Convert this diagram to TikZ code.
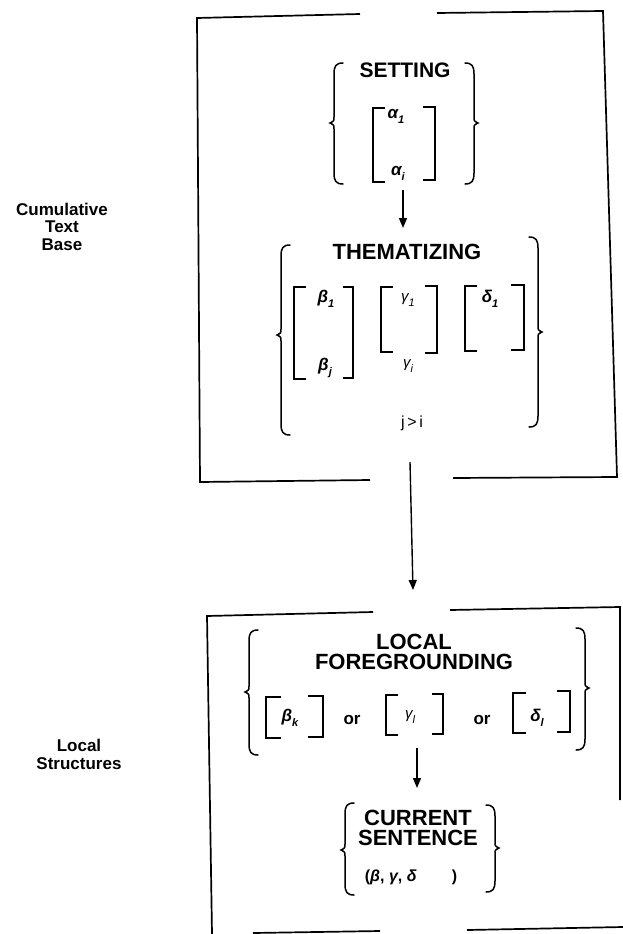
\documentclass[tikz,border=0pt]{standalone}
\usepackage{fontspec}
\setmainfont{Liberation Sans}
\usetikzlibrary{arrows.meta}
\newcommand\sbs[1]{\raisebox{-0.3em}{\fontsize{11}{11}\selectfont #1}}
\newcommand\BrL[4]{\draw[brc] ({#1+9},#2) .. controls ({#1+2},#2) and (#1,{#2+3}) .. (#1,{#2+11}) -- (#1,{#4-6}) .. controls (#1,{#4-2}) .. ({#1-4},#4) .. controls (#1,{#4+2}) .. (#1,{#4+6}) -- (#1,{#3-11}) .. controls (#1,{#3-3}) and ({#1+2},#3) .. ({#1+9},#3);}
\newcommand\BrR[4]{\draw[brc] ({#1-9},#2) .. controls ({#1-2},#2) and (#1,{#2+3}) .. (#1,{#2+11}) -- (#1,{#4-6}) .. controls (#1,{#4-2}) .. ({#1+4},#4) .. controls (#1,{#4+2}) .. (#1,{#4+6}) -- (#1,{#3-11}) .. controls (#1,{#3-3}) and ({#1-2},#3) .. ({#1-9},#3);}
\newcommand\BkL[4]{\draw[brk] (#2,#3) -- (#1,#3) -- (#1,#4) -- (#2,#4);}
\newcommand\BkR[4]{\draw[brk] (#2,#3) -- (#1,#3) -- (#1,#4) -- (#2,#4);}
\tikzset{
  boxline/.style={line width=1.7pt, line join=miter},
  brc/.style={line width=1.5pt, line cap=round},
  brk/.style={line width=1.5pt},
  head/.style={font=\fontsize{22}{20}\selectfont\bfseries, inner sep=0pt, align=center},
  side/.style={font=\fontsize{17}{15}\selectfont\bfseries, inner sep=0pt, text height=12pt, text depth=0pt},
  gk/.style={font=\fontsize{17}{17}\selectfont\bfseries\itshape, inner sep=0pt},
  small/.style={font=\fontsize{16}{16}\selectfont, inner sep=0pt},
  orw/.style={font=\fontsize{17}{17}\selectfont\bfseries, inner sep=0pt},
  arr/.style={line width=1.4pt, -{Triangle[length=10pt,width=8pt]}}
}
\begin{document}
\begin{tikzpicture}[x=1pt,y=-1pt]
\useasboundingbox (0,0) rectangle (623,934);
% side labels
\node[side] (cum1) at (62,209) {Cumulative};
\node[side] (cum2) at (62,226.5) {Text};
\node[side] (cum3) at (62,244) {Base};
\node[side] (loc1) at (79,745) {Local};
\node[side] (loc2) at (79,763) {Structures};
% top box
\draw[boxline] (360,14) -- (197,18) -- (200,482) -- (370,480);
\draw[boxline] (437,13) -- (603,11) -- (617,477) -- (453,478);
% SETTING group
\node[head, font=\fontsize{21}{20}\selectfont\bfseries] (set) at (405,70) {SETTING};
\BrL{334}{63}{184}{123}
\BrR{474}{63}{184}{123}
\BkL{373}{385}{108}{182}
\BkR{435}{423}{107}{180}
\node[gk] (a1) at (396,116) {α\sbs{1}};
\node[gk] (ai) at (398,173) {α\sbs{i}};
\coordinate (s1) at (403,190);
\coordinate (s2) at (403,228);
\draw[arr] (s1) -- (s2);
\node[head] (them) at (407,252) {THEMATIZING};
% THEMATIZING group
\BrL{281}{245}{435}{335}
\BrR{538}{237}{427}{332}
\BkL{294}{306}{287}{379}
\BkR{353}{343}{287}{378}
\node[gk] (b1) at (326,299) {β\sbs{1}};
\node[gk] (bj) at (325,368) {β\sbs{j}};
\BkL{381}{393}{287}{352}
\BkR{437}{425}{286}{353}
\node[gk, font=\fontsize{15}{15}\selectfont\itshape] (g1) at (408,300) {γ\sbs{1}};
\node[gk, font=\fontsize{15}{15}\selectfont\itshape] (gi) at (408,366) {γ\sbs{i}};
\BkL{465}{477}{286}{351}
\BkR{524}{511}{285}{350}
\node[gk] (d1) at (490,299) {δ\sbs{1}};
\node[small] (ji) at (412,423) {j\,>\,i};
% arrow between boxes
\coordinate (c1) at (410,462);
\coordinate (c2) at (413,590);
\draw[arr] (c1) -- (c2);
% bottom box
\draw[boxline] (373,612) -- (207,616) -- (212,934);
\draw[boxline] (450,610) -- (620,607) -- (620,800);
\draw[boxline] (253,933) -- (380,931);
\draw[boxline] (467,930) -- (623,927);
\node[head] (lf) at (414,652) {LOCAL\\FOREGROUNDING};
\BrL{249}{630}{755}{692}
\BrR{585}{628}{750}{688}
\BkL{266}{281}{697}{738}
\BkR{323}{308}{696}{737}
\node[gk] (bk) at (290,718) {β\sbs{k}};
\node[orw] (or1) at (352,720) {or};
\BkL{386}{398}{695}{735}
\BkR{443}{432}{694}{734}
\node[gk, font=\fontsize{15}{15}\selectfont\itshape] (gl) at (410,717) {γ\sbs{l}};
\node[orw] (or2) at (482,720) {or};
\BkL{513}{526}{693}{733}
\BkR{570}{557}{691}{732}
\node[gk] (dl) at (537,718) {δ\sbs{l}};
\coordinate (f1) at (417,748);
\coordinate (f2) at (417,788);
\draw[arr] (f1) -- (f2);
\node[head] (cs) at (418,828) {CURRENT\\SENTENCE};
\BrL{345}{803}{895}{850}
\BrR{495}{805}{892}{848}
\node[gk, font=\fontsize{16}{16}\selectfont\bfseries] (bgd) at (411,877) {(\textit{β}, \textit{γ}, \textit{δ}\hspace{2.2em})};
\end{tikzpicture}
\end{document}
